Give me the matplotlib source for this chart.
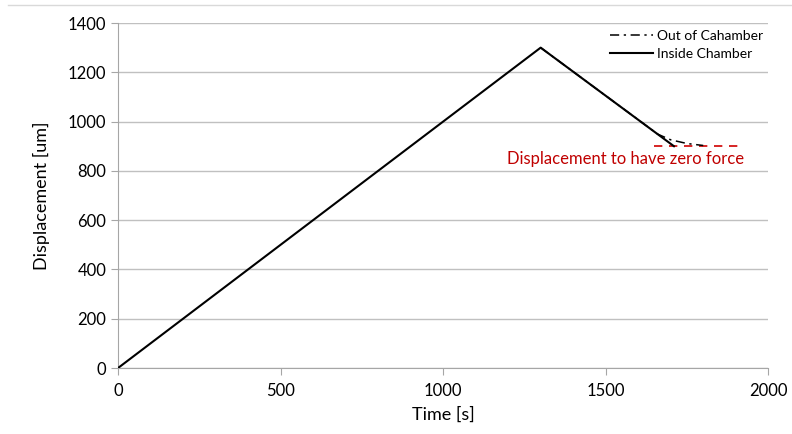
import matplotlib
matplotlib.use("Agg")
import matplotlib.pyplot as plt
from matplotlib.lines import Line2D

# Data
out_t = [1300, 1660, 1700, 1750, 1800]
out_d = [1300, 949, 926, 911, 903]
in_t = [0, 1300, 1710]
in_d = [0, 1300, 900]
zero_force_t = [1650, 1910]
zero_force_d = [900, 900]
series_labels = ["Out of Cahamber", "Inside Chamber"]
annotation = "Displacement to have zero force"
xticks = [0, 500, 1000, 1500, 2000]
yticks = [0, 200, 400, 600, 800, 1000, 1200, 1400]

plt.rcParams['font.family'] = ['Lato', 'DejaVu Sans']

fig = plt.figure(figsize=(7.92, 4.34), dpi=100)
ax = fig.add_axes([0.149, 0.152, 0.821, 0.795])

ax.plot(out_t, out_d, color='black', lw=1.1, linestyle=(0, (6, 3, 1.5, 3)), label=series_labels[0], zorder=3)
ax.plot(in_t, in_d, color='black', lw=1.5, label=series_labels[1], zorder=4)
ax.plot(zero_force_t, zero_force_d, color='#d00000', lw=1.2, linestyle=(0, (5, 4)), zorder=2)
ax.text(1560, 850, annotation, color='#c00000', fontsize=12, ha='center', va='center')

ax.set_xlim(0, 2000)
ax.set_ylim(0, 1400)
ax.set_xticks(xticks)
ax.set_yticks(yticks)
ax.grid(axis='y', color='#c0c0c0', lw=1)
ax.set_axisbelow(True)
for s in ['top', 'right']:
    ax.spines[s].set_visible(False)
for s in ['left', 'bottom']:
    ax.spines[s].set_color('#a6a6a6')
ax.tick_params(axis='both', colors='#a6a6a6', labelcolor='black', labelsize=12, length=5, direction='out')
ax.tick_params(axis='x', pad=6)
ax.set_xlabel("Time [s]", fontsize=13, labelpad=5)
ax.set_ylabel("Displacement [um]", fontsize=13, labelpad=13)

leg = ax.legend(loc='upper right', frameon=False, fontsize=10, handlelength=3.1,
                handletextpad=0.3, labelspacing=0.45, borderaxespad=0.2,
                bbox_to_anchor=(1.005, 1.005))

fig.add_artist(Line2D([8/792, 1], [1-5/434, 1-5/434], color='#d9d9d9', lw=1, transform=fig.transFigure))

fig.savefig("out.png", dpi=100)
